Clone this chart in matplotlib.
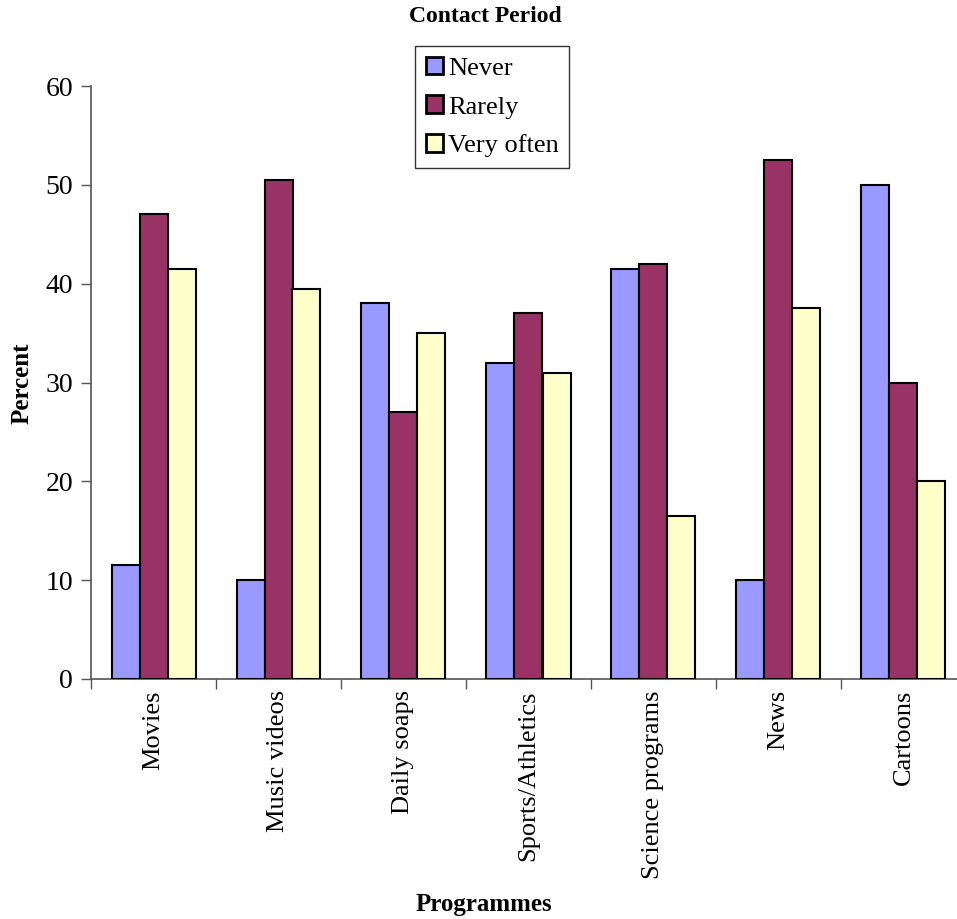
import numpy as np
import matplotlib
matplotlib.use("Agg")
import matplotlib.pyplot as plt

plt.rcParams['font.family'] = ['Liberation Serif', 'DejaVu Serif']

# Survey data: percent of respondents per programme type
programmes = ['Movies', 'Music videos', 'Daily soaps', 'Sports/Athletics',
              'Science programs', 'News', 'Cartoons']
never = [11.5, 10, 38, 32, 41.5, 10, 50]
rarely = [47, 50.5, 27, 37, 42, 52.5, 30]
very_often = [41.5, 39.5, 35, 31, 16.5, 37.5, 20]

series_names = ['Never', 'Rarely', 'Very often']
series_colors = ['#9999FF', '#993366', '#FFFFCC']

fig = plt.figure(figsize=(9.57, 9.19), dpi=100)
W, H = 957, 919
# plot area: left spine at x=91, bottom at y=679, top at y=86; runs past the right edge
ax = fig.add_axes([91 / W, (H - 679) / H, (966 - 91) / W, (679 - 86) / H])

x = np.arange(len(programmes))
width = 0.224
for i, (vals, name, col) in enumerate(zip([never, rarely, very_often], series_names, series_colors)):
    ax.bar(x + (i - 1) * width, vals, width, color=col, edgecolor='black',
           linewidth=1.5, label=name, zorder=3)

ax.set_xlim(-0.5, len(programmes) - 0.5)
ax.set_ylim(0, 60)
ax.set_yticks(range(0, 61, 10))
ax.tick_params(axis='y', labelsize=20, length=7, width=1, color='#555555',
               direction='out', pad=6)

# category separators as minor ticks, labels centred under groups
ax.set_xticks(x)
ax.set_xticklabels(programmes, rotation=90, fontsize=19)
ax.tick_params(axis='x', which='major', length=0, pad=8)
ax.set_xticks(np.arange(len(programmes) + 1) - 0.5, minor=True)
ax.tick_params(axis='x', which='minor', length=7, width=1, color='#555555')

for side in ['top', 'right']:
    ax.spines[side].set_visible(False)
for side in ['left', 'bottom']:
    ax.spines[side].set_color('#555555')
    ax.spines[side].set_linewidth(1.2)

fig.text(22 / W, 1 - 383 / H, 'Percent', ha='center', va='center', rotation=90,
         fontsize=18, fontweight='bold')
fig.text(484 / W, 1 - 905 / H, 'Programmes', ha='center', va='center',
         fontsize=18, fontweight='bold')
fig.text(485 / W, 1 - 17 / H, 'Contact Period', ha='center', va='center',
         fontsize=17, fontweight='bold')

leg = ax.legend(loc='upper left', bbox_to_anchor=((415 - 91) / (966 - 91), 1 + (86 - 46) / (679 - 86)),
                fontsize=19, frameon=True, fancybox=False, edgecolor='black',
                handlelength=0.65, handleheight=0.65, handletextpad=0.2,
                borderaxespad=0, borderpad=0.4, labelspacing=0.6)
leg.get_frame().set_linewidth(1.0)
for patch in leg.get_patches():
    patch.set_linewidth(2)

fig.savefig('out.png', dpi=100)
